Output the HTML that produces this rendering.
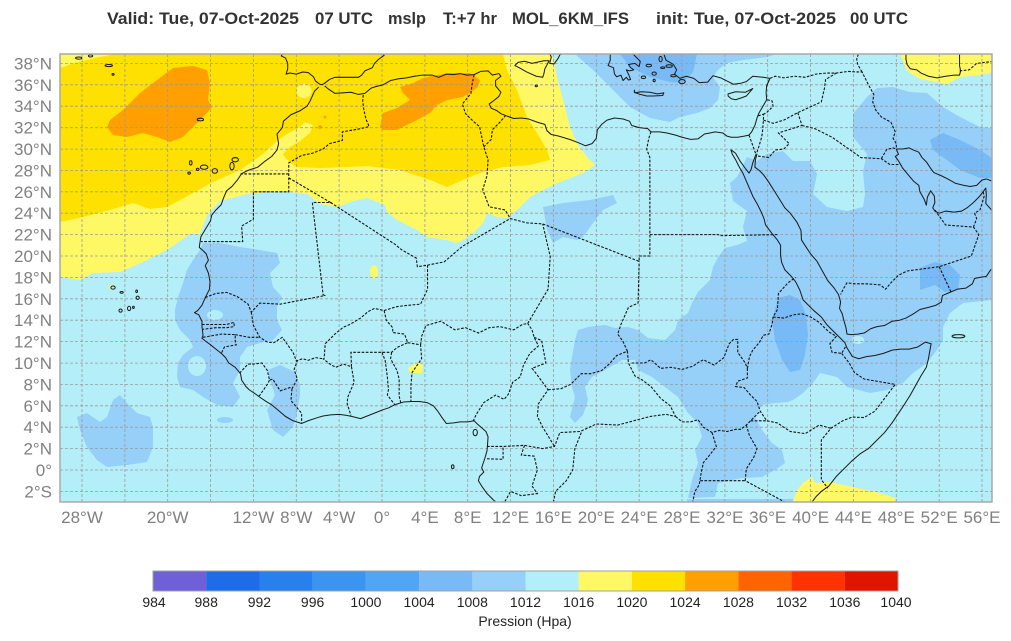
<!DOCTYPE html>
<html><head><meta charset="utf-8"><style>
html,body{margin:0;padding:0;background:#fff;}
svg{display:block;}
text{font-family:"Liberation Sans",Arial,sans-serif;}
</style></head><body>
<svg width="1011" height="641" viewBox="0 0 1011 641" xmlns="http://www.w3.org/2000/svg">
<defs><clipPath id="mc"><rect x="60" y="54" width="932" height="448"/></clipPath></defs>
<rect width="1011" height="641" fill="#fff"/>
<!-- title -->
<g font-weight="bold" font-size="17" fill="#333">
<text x="107" y="24" textLength="192" lengthAdjust="spacingAndGlyphs">Valid: Tue, 07-Oct-2025</text>
<text x="315" y="24" textLength="58" lengthAdjust="spacingAndGlyphs">07 UTC</text>
<text x="388" y="24" textLength="38" lengthAdjust="spacingAndGlyphs">mslp</text>
<text x="443" y="24" textLength="54" lengthAdjust="spacingAndGlyphs">T:+7 hr</text>
<text x="512" y="24" textLength="117" lengthAdjust="spacingAndGlyphs">MOL_6KM_IFS</text>
<text x="656" y="24" textLength="180" lengthAdjust="spacingAndGlyphs">init: Tue, 07-Oct-2025</text>
<text x="850" y="24" textLength="58" lengthAdjust="spacingAndGlyphs">00 UTC</text>
</g>
<g clip-path="url(#mc)">
<rect x="60" y="54" width="932" height="448" fill="#b4eef8"/>
<!-- yellow 1016-1020 -->
<polygon fill="#fff865" points="60,54 552,54 557,77 563,100 570,127 577,143 587,157 595,165 583,173 560,182 543,190 530,197 517,210 507,218 497,217 487,213 483,223 473,233 463,240 457,243 447,240 427,237 417,230 397,220 387,212 385,205 367,198 353,201 337,207 320,204 307,194 280,191 247,194 220,201 207,215 200,234 190,234 167,250 143,262 120,272 93,273 80,280 60,277"/>
<!-- gold 1020-1024 -->
<polygon fill="#ffe100" points="60,54 503,54 507,70 517,90 527,117 537,133 547,150 550,160 530,165 503,167 480,173 463,180 447,187 430,180 400,170 367,166 347,167 320,168 297,167 287,160 283,154 290,147 300,141 310,133 313,125 305,122 300,127 287,134 277,141 263,154 240,170 213,182 182,199 167,207 150,209 133,203 110,210 83,217 60,222"/>
<polygon fill="#fff865" points="60,54 115,54 95,58 75,63 60,68"/>
<ellipse cx="304" cy="91" rx="7.5" ry="7" fill="#fff865"/>
<!-- orange -->
<polygon fill="#ffa000" points="107,127 110,120 123,110 140,93 157,80 173,68 193,66 207,70 210,83 208,100 212,107 207,113 197,123 183,137 170,142 157,137 143,133 127,137 113,135"/>
<polygon fill="#ffa000" points="380,127 383,113 397,108 410,100 403,93 400,87 413,83 423,78 437,75 450,73 470,73 480,80 478,87 470,93 463,97 447,100 437,105 430,113 417,120 407,125 397,130 383,130"/>
<circle cx="325" cy="117" r="1.5" fill="#ffa000"/><circle cx="320" cy="127" r="1.8" fill="#ffa000"/>
<!-- light blue 1008-1012 -->
<g fill="#96cff8">
<polygon points="575,54 593,70 613,90 630,107 650,118 670,122 680,117 697,113 710,108 718,100 720,87 713,77 718,70 727,63 743,60 767,57 777,54"/>
<polygon points="737,177 747,157 757,161 767,154 783,151 793,161 810,161 817,174 813,194 827,207 847,211 863,207 865,194 863,171 867,154 853,137 853,114 867,97 877,88 893,87 910,92 927,93 943,107 960,117 980,127 992,128 992,300 963,303 950,313 943,327 943,340 937,350 927,363 913,373 903,383 887,390 870,393 847,387 837,377 820,373 813,383 803,393 793,400 788,402 775,403 762,405 755,417 762,430 772,443 782,450 785,463 775,470 762,477 742,478 718,483 715,497 688,498 692,480 698,463 695,450 702,437 698,423 688,413 678,397 665,387 652,377 638,370 635,360 622,360 605,370 592,377 585,387 588,400 583,415 575,423 570,417 575,397 572,387 570,370 572,357 575,340 578,330 588,327 605,325 615,328 628,327 638,330 648,338 665,340 675,330 678,320 688,313 692,303 698,292 710,280 713,267 718,257 725,248 737,245 747,241 743,227 747,211 733,201 730,183"/>
<polygon points="543,207 563,203 590,200 613,195 617,203 603,210 593,223 583,237 577,240 563,237 553,243 547,230"/>
<polygon points="203,243 220,243 240,247 260,250 277,253 280,263 270,273 273,287 282,297 277,307 277,320 282,330 273,340 260,343 247,347 240,357 240,370 233,383 240,397 233,407 217,405 203,397 193,390 180,387 177,377 178,363 183,355 193,347 190,340 180,330 175,320 175,310 178,297 183,283 187,270 193,260 200,250"/>
<polygon points="267,410 275,395 270,380 268,370 280,365 295,372 300,385 300,395 297,413 293,427 283,437 273,430"/>
<polygon points="77,417 87,413 100,422 107,417 113,400 120,395 127,403 137,413 150,417 153,427 153,447 147,462 127,465 107,467 97,460 87,447 80,430"/>
<ellipse cx="225" cy="420" rx="8" ry="3"/>
<polygon points="687,499 793,499 793,502 687,502"/>
</g>
<g fill="#b4eef8">
<ellipse cx="197" cy="366" rx="9" ry="10"/>
<ellipse cx="215" cy="315" rx="8" ry="5"/>
<ellipse cx="858" cy="340" rx="6" ry="4"/>
</g>
<!-- 1004-1008 -->
<g fill="#78baf6">
<polygon points="620,54 630,67 650,77 670,82 683,83 693,72 697,54"/>
<polygon points="778,298 790,295 800,300 806,315 808,335 805,355 800,370 790,372 782,360 775,340 772,320"/>
<polygon points="920,268 935,262 950,265 960,275 958,290 945,292 935,285 920,290"/>
<polygon points="930,140 943,133 960,140 980,150 992,158 992,178 980,178 960,170 947,160 933,150"/>
</g>
<!-- other yellow patches -->
<g fill="#fff865">
<polygon points="900,54 907,71 920,79 947,84 960,77 987,74 992,72 992,54"/>
<polygon points="793,502 797,490 803,483 812,477 815,483 830,482 853,487 880,493 895,498 895,502"/>
<ellipse cx="374" cy="272" rx="4" ry="7"/>
<polygon points="408,368 418,362 423,365 422,373 410,373"/>
<circle cx="111" cy="287" r="2"/>
</g>
<!-- gridlines -->
<g stroke="#9a9a9a" stroke-width="0.8" stroke-dasharray="3,2" fill="none">
<path d="M82,54V502M124.9,54V502M167.7,54V502M210.6,54V502M253.4,54V502M296.3,54V502M339.1,54V502M382,54V502M424.9,54V502M467.7,54V502M510.6,54V502M553.4,54V502M596.3,54V502M639.2,54V502M682,54V502M724.9,54V502M767.7,54V502M810.6,54V502M853.5,54V502M896.3,54V502M939.2,54V502M982,54V502"/>
<path d="M60,491.4H992M60,470H992M60,448.6H992M60,427.2H992M60,405.8H992M60,384.5H992M60,363.1H992M60,341.6H992M60,320.2H992M60,298.8H992M60,277.4H992M60,256H992M60,234.6H992M60,213.2H992M60,191.8H992M60,170.5H992M60,149.1H992M60,127.7H992M60,106.2H992M60,84.8H992M60,63.4H992"/>
</g>
<!-- coastlines & borders (lon/lat) -->
<g transform="matrix(10.715,0,0,-10.70,382,470)" fill="none" stroke="#1a1a1a" stroke-width="0.095" stroke-linejoin="round">
<path d="M-5.9,35.8L-6.3,35.4-6.7,34.5-7,34-7.6,33.6-8.5,33.2-9.2,32.6-9.3,32-9.8,31.4-9.65,30.5-9.8,29.9-10.3,29.3-11,28.8-11.6,28.3-12.5,28-13.1,27.7-13.5,27.1-14,26.5-14.5,26.1-14.8,25.4-15,24.8-15.5,24.3-15.9,23.8-16,23.3-16.3,22.8-16.6,22.3-16.9,21.8-17,21.2-17.05,20.8-16.7,20.5-16.4,20.2-16.2,19.6-16.5,19.1-16.2,18.4-16.05,17.6-16.1,16.9-16.5,16.1-16.8,15.4-17.2,14.9-17.5,14.7-17.1,14.5-16.8,13.9-16.8,13.4-16.7,12.6-16.8,12.3-16.4,12-16,11.7-15.5,11.3-15,10.9-14.6,10.5-14.3,10-13.7,9.6-13.2,9-13.1,8.4-12.7,7.8-12.4,7.5-11.8,7.1-11.4,6.8-10.8,6.4-10.3,6.1-9.7,5.6-9,5-8.3,4.6-7.5,4.35-6.9,4.6-6,4.9-5.5,5.05-4.8,5.15-4,5.2-3.3,5.1-2.8,5-2,4.8-1.5,5-1,5.2-0.5,5.4 0,5.6 0.6,5.8 1.2,6.1 2,6.35 2.8,6.4 3.5,6.4 4.2,6.3 4.8,6 5.2,5.5 5.6,4.9 6,4.35 6.7,4.4 7.3,4.5 8,4.5 8.6,4.6 8.9,4.3 9.3,3.95 9.7,3.6 9.9,3.1 9.85,2.4 9.8,1.8 9.6,1.1 9.4,0.5 9.3,0.2 9.5,-0.2 9.1,-0.6 9,-1 9.3,-1.5 9.8,-2.2 10.4,-2.8 11,-3.3"/>
<path d="M-5.35,35.9L-5,35.6-4.4,35.2-3.7,35.25-2.9,35.3-2.2,35.1-1.6,35.2-1,35.7-0.5,35.85 0.1,36 0.8,36.4 1.5,36.55 2.3,36.65 3,36.8 3.8,36.9 4.7,36.9 5.3,36.7 6,37 6.7,36.95 7.3,37.05 7.9,36.9 8.6,36.95 9.2,37.25 9.9,37.3 10.3,36.9 10.9,37.05 11.1,36.8 10.6,36.4 10.6,35.9 11.1,35.3 10.9,34.9 10.4,34.5 10,34.2 10.2,33.8 10.7,33.6 11.1,33.3 11.6,33.1 12.3,32.85 13,32.9 13.7,32.8 14.5,32.5 15.2,32.3 15.4,31.7 15.8,31.35 16.5,31.2 17.5,30.9 18.3,30.6 19,30.3 19.6,30.5 20,31 20.1,31.8 20.5,32.3 21,32.7 21.7,32.9 22.5,32.8 23.1,32.6 23.3,32.2 24,32 24.8,31.9 25.1,31.6 25.9,31.6 26.6,31.5 27.4,31.3 28,31.1 28.8,30.9 29.5,30.95 30.1,31.4 30.6,31.5 31.1,31.6 31.8,31.5 32.2,31.2 32.6,31.1 33.2,31.1 33.8,31.2 34.25,31.3 34.5,31.6 34.8,32.2 35,32.9 35.2,33.4 35.5,33.9 35.9,34.6 35.85,35.3 35.9,35.9 36.2,36.6 35.6,36.7 34.6,36.8 34,36.3 33.5,36.15 32.8,36.05 32.3,36.3 31.6,36.65 30.9,36.85 30.6,36.5 30.4,36.25 29.6,36.2 29.1,36.6 28.4,36.8 27.8,36.6 27.3,37 27.5,37.4 27.2,37.9 26.5,38.3 26.3,38.9"/>
<path d="M32.55,29.95L32.7,29.5 33,29 33.3,28.4 33.7,27.7 34,27 34.3,26.3 34.6,25.6 35,24.9 35.4,24.1 35.65,23.5 35.8,22.9 36.4,22.1 36.9,21.5 37.2,21 37.2,20 37.3,19.4 37.6,18.7 38.2,18.1 38.6,17.6 39,16.8 39.3,15.9 39.8,15.4 40.3,14.9 41,14.3 41.5,13.6 42,13.1 42.6,12.5 43.2,11.9 43.4,11.4 43.9,10.6 44.5,10.4 45.2,10.6 46,10.7 46.8,10.9 47.6,11.2 48.4,11.3 49.2,11.3 50,11.5 50.7,11.95 51.25,11.8 51.1,11 51,10.4 50.8,9.6 50.3,8.8 49.8,7.9 49.3,7 48.8,6.2 48.2,5.3 47.6,4.4 46.9,3.5 46.1,2.7 45.4,2 44.6,1.5 43.8,0.8 43,0 42.4,-0.6 41.7,-1.5 41,-2 40.5,-2.5 40.2,-2.9 39.9,-3.4"/>
<path d="M32.6,29.9L33,29.6 33.4,28.9 33.9,28.2 34.25,27.75 34.45,28.1 34.6,28.7 34.9,29.5"/>
<path d="M35,29.55L34.85,29 34.8,28.3 35.2,28 35.6,27.6 36.1,26.9 36.6,26.1 37.1,25.3 37.6,24.5 38.1,24 38.7,23.2 39.1,22.4 39.15,21.5 39.6,20.8 40,20.2 40.6,19.5 41.1,18.6 41.6,17.7 42.2,17 42.6,16.4 42.8,15.7 42.7,15.1 42.95,14.6 43.1,14 43.3,13.3 43.4,12.7 43.8,12.65 44.4,12.7 45,12.8 45.6,13.2 46.2,13.4 46.9,13.5 47.6,13.9 48.3,14 48.9,14.2 49.6,14.6 50.2,15 51,15.2 51.7,15.4 52.2,15.7 52.3,16.3 53,16.6 53.7,16.9 54.5,17 55.1,17.4 55.3,17.9 55.8,18 56.4,18.1 56.8,18.7 57.2,19"/>
<path d="M48,30L48.2,29.5 47.9,29.3 48.2,28.9 48.6,28.2 49.1,27.6 49.6,27 50.1,26.6 50.2,26 50.6,25.3 50.8,24.75 50.9,25.5 51.2,26.1 51.55,25.6 51.6,25 51.4,24.5 51.6,24.2 52,24 52.6,24.2 53.4,24.1 54.1,24.2 54.6,24.5 55.2,25 55.7,25.5 56.1,26 56.35,26.35 56.4,25.7 56.35,24.9 56.8,24.4 57.2,23.9"/>
<path d="M48,30L48.6,30 49.2,30.1 49.6,29.9 50.1,29.7 50.4,29.2 50.8,28.8 51.2,28.2 51.5,27.8 52.2,27.5 52.8,27.2 53.5,26.8 54.3,26.6 54.9,26.5 55.5,26.6 56,27.1 56.4,27.2 57.2,26.9"/>
<path d="M48.9,39L48.9,38.4 49,37.9 49.3,37.5 49.9,37.4 50.3,37.1 51,36.8 51.8,36.65 52.6,36.8 53.4,36.9 53.9,36.9 54,37.3 53.9,37.8 53.9,39"/>
<path d="M-9.2,39L-9.4,38.7-9,38.5-8.8,38-8.8,37.5-8.95,37-8.6,37.1-8,37-7.4,37.2-6.9,37.15-6.4,36.75-6.2,36.35-5.8,36.05-5.6,36-5.35,36.15-4.9,36.5-4.4,36.7-3.6,36.7-2.9,36.7-2.2,36.7-1.9,36.9-1.6,37.3-0.9,37.6-0.7,38-0.3,38.4 0.2,38.75 0,39"/>
<path d="M15.6,38.25L15.2,37.5 15.1,37 15,36.7 14.4,36.8 13.5,37.2 12.8,37.6 12.4,37.8 12.7,38.1 13.3,38.2 14,38 15.1,38.25Z"/>
<path d="M15.6,39L15.8,38.6 15.65,38 16.05,37.95 16.4,38.4 16.6,38.8 17.1,39"/>
<path d="M21.3,39L21.3,38.3 21.1,37.8 21.6,37.6 21.7,37 21.9,36.75 22.3,36.9 22.5,36.4 22.8,36.7 23,36.45 23.2,36.5 23,37 22.8,37.4 23.1,37.3 23.5,37.4 23.2,37.6 23,37.9 23.6,38 24,37.7 24.1,38.2 23.7,38.6 23.3,39"/>
<path d="M23.55,35.5L23.6,35.25 24.2,35.35 25,35.3 25.7,35.15 26.3,35.25 26.2,35 25.3,34.95 24.7,34.95 24.1,35.1 23.55,35.3Z"/>
<path d="M32.3,34.95L32.6,34.7 33,34.6 33.6,34.8 34,34.95 34.6,35.65 33.9,35.3 33,35.35 32.3,35.15Z"/>
<g>
<ellipse cx="28" cy="36.3" rx="0.3" ry="0.2"/><ellipse cx="25.4" cy="37.05" rx="0.2" ry="0.15"/><ellipse cx="24.4" cy="36.7" rx="0.2" ry="0.12"/><ellipse cx="24.9" cy="37.8" rx="0.25" ry="0.12"/><ellipse cx="26.8" cy="37.75" rx="0.3" ry="0.12"/><ellipse cx="26" cy="38.4" rx="0.15" ry="0.25"/><ellipse cx="27.2" cy="36.85" rx="0.25" ry="0.1"/><ellipse cx="26.2" cy="37.6" rx="0.2" ry="0.08"/><ellipse cx="25.4" cy="36.4" rx="0.1" ry="0.12"/>
<ellipse cx="-13.7" cy="29" rx="0.3" ry="0.2"/><ellipse cx="-14" cy="28.4" rx="0.2" ry="0.35"/><ellipse cx="-15.6" cy="27.95" rx="0.25" ry="0.22"/><ellipse cx="-16.6" cy="28.3" rx="0.35" ry="0.2"/><ellipse cx="-17.2" cy="28.1" rx="0.12" ry="0.1"/><ellipse cx="-17.85" cy="28.7" rx="0.12" ry="0.2"/><ellipse cx="-18" cy="27.75" rx="0.12" ry="0.1"/>
<ellipse cx="-16.95" cy="32.75" rx="0.3" ry="0.12"/>
<ellipse cx="-25.1" cy="17.05" rx="0.2" ry="0.15"/><ellipse cx="-24.3" cy="16.6" rx="0.15" ry="0.08"/><ellipse cx="-22.9" cy="16.7" rx="0.08" ry="0.12"/><ellipse cx="-22.8" cy="16.1" rx="0.15" ry="0.15"/><ellipse cx="-23.6" cy="15.1" rx="0.15" ry="0.2"/><ellipse cx="-24.4" cy="14.9" rx="0.15" ry="0.15"/><ellipse cx="-23.2" cy="15.2" rx="0.08" ry="0.1"/>
<ellipse cx="-28.3" cy="38.5" rx="0.3" ry="0.1"/><ellipse cx="-27.2" cy="38.7" rx="0.2" ry="0.1"/><ellipse cx="-25.5" cy="37.8" rx="0.35" ry="0.1"/><ellipse cx="-25.1" cy="36.97" rx="0.1" ry="0.08"/>
<ellipse cx="8.7" cy="3.5" rx="0.2" ry="0.3"/><ellipse cx="6.6" cy="0.3" rx="0.12" ry="0.18"/><ellipse cx="53.8" cy="12.5" rx="0.6" ry="0.15"/><ellipse cx="14.4" cy="35.9" rx="0.1" ry="0.08"/>
</g>
</g>
<g transform="matrix(10.715,0,0,-10.70,382,470)" fill="none" stroke="#111" stroke-width="0.1" stroke-dasharray="0.25,0.14">
<path d="M-1.75,35.05L-1.8,34.5-1.7,33.7-1.5,32.8-1.2,32.1-2,31.9-3.7,31.6-3.7,30.8-4.9,30.5-5.5,30-6.5,29.6-7.5,29.4-8.7,28.7-8.7,27.3-8.7,26-12,26-12,23.45-13.1,22.8-13,21.35-16.9,21.35"/>
<path d="M-8.7,27.67L-13.2,27.67"/>
<path d="M-8.7,27.3L-4.8,25-6.5,25-5.5,16.4-5.35,16.3-9.5,15.5-11.4,15.6-12.2,14.75-12.5,15.5-13.5,16.2-14.5,16.6-15.5,16.5-16.3,16.2-16.5,16.1"/>
<path d="M-4.8,25L1.2,21.1 1.8,20.6 3.2,19.8 3.3,19 4.25,19.15 5.8,19.45 7.5,20.9 11.97,23.5 13.5,23.1 15,23 24,19.5 24,20 25,20 25,22 25,29.2 24.7,30 24.9,31 25.1,31.6"/>
<path d="M4.25,19.15L4.25,16.9 3.6,15.5 2,15.35 1.3,15.25 0.2,14.9-0.7,15.1-1.3,14.8-2,14.2-3,13.6-3.6,13.35-4.4,12.7-5.3,11.8-5.4,10.4"/>
<path d="M-12.2,14.75L-12,13.5-11.4,12.4-10.7,11.95-10.1,11.9-9.3,12.4-8.6,11.4-8.3,11-8,10.2-7.4,10.4-6.9,10.25-6.2,10.5-5.5,10.4"/>
<path d="M0.2,14.9L0.4,14 1,13.3 1,12.85 2.1,12.7 2.4,11.9 1.4,11.45 0.9,11 0,11-1,11-2.9,11-2.85,9.65-3.6,9.9-4.3,9.6-4.8,9.85-5.5,10.4"/>
<path d="M-2.85,9.65L-2.6,8.2-3.2,6.8-3.25,6.2-2.9,5.1"/>
<path d="M0,11L0.3,10.2 0.5,8.7 0.6,7.5 0.5,7 1.2,6.1"/>
<path d="M0.9,11L0.8,10.4 1.4,9.3 1.6,8.5 1.6,6.9 1.75,6.3"/>
<path d="M2.4,11.9L3.6,11.7 3.7,10.4 2.8,9.1 2.7,7.9 2.7,6.35"/>
<path d="M3.6,11.7L3.7,12.5 4.1,13.5 5.5,13.9 6.8,13.1 7.8,13.3 9,12.8 10,13.3 11,13.4 12.3,13.1 13.1,13.6 13.6,13.7 15.5,16.9 15.7,19.95 15,23"/>
<path d="M8.5,4.55L8.8,5.2 9.5,6.3 10.6,7 11.4,6.6 11.8,7.1 12.2,8.2 12.9,8.7 13.2,9.8 13.8,10.9 14.6,11.6 14.2,12.4 14,13.1 13.6,13.7"/>
<path d="M14.2,12.4L14.9,12.1 15.1,11 15.3,10 14,9.5 14.4,9 15.5,7.5 14.6,6.2 14.5,5 15,4 16.1,2.2"/>
<path d="M9.8,2.2L11.3,2.2 13.3,2.3 15,2 16.1,2.2 16.6,3.5 18.5,3.6 20,4.3 22,4.2 23.5,4.6 25,5 26.5,5.2 27.4,5"/>
<path d="M9.8,1.05L11.3,1 11.3,2.2"/>
<path d="M13.3,2.3L13,1.4 14.2,1.3 14.5,0 14,-1.5 14.5,-2.2 13,-2.4 12,-2 11.5,-2.9 11.1,-3"/>
<path d="M18.6,3.5L18,2 17.8,0 17.2,-1 16.2,-2 16,-3"/>
<path d="M15.5,7.5L16.7,7.6 17.6,8 18.6,9 19.5,9 20.5,9.3 21.2,9.9 21.9,10.7 22.9,11.1 23,10 23.6,8.8 24.3,8.4 25.1,7.8 26,6.7 26.9,6 27.4,5"/>
<path d="M22.9,11.1L22.5,12 22,12.7 22.3,13.6 23,15.2 23.9,15.6 24,19.5"/>
<path d="M25,22L31.4,22 31.5,21.9 36.9,22"/>
<path d="M8.6,36.95L8.4,36 8.3,35.2 7.5,34.2 7.8,33.3 8.5,32.6 9.1,32.1 9.5,30.2 9.9,29 9.8,27.5 9.4,26.2 10,24.6 11.5,24.3 11.97,23.5"/>
<path d="M11.55,33.15L11,32.5 10.3,31.8 10.2,30.9 9.5,30.2"/>
<path d="M23.3,10L24.5,10 25.1,10.3 26,9.5 27,9.6 28,9.4 29,9.7 29.6,10.1 30,10.3 31,9.8 31.9,10.5 32.4,11.8 32.8,12.2 33.2,12.2 33.2,11 33.9,10 34.1,9.5"/>
<path d="M34.1,9.5L34.3,10.6 34.6,11.2 35.2,11.9 35.6,12.6 36.1,12.7 36.4,13.6 36.5,14.3 36.9,15 37,16.5 37.9,17.5 38.6,18"/>
<path d="M36.5,14.3L37.5,14.2 38.4,14.5 39.2,14.6 40,14.3 40.8,13.8 41.7,12.9 42.4,12.5 41.8,11.8 42,11 42.9,10.9 43.25,11.5"/>
<path d="M42.9,10.9L43.6,10 44.1,9.1 45,8.5 47.9,8 46,5.5 45,4.9 43.9,4.95 43,4.6 41.9,3.9 41,2.8 41,-0.9 41.6,-1.7"/>
<path d="M34.1,9.5L34.1,8.6 33.2,8.3 33,7.8 33.8,7.7 34.4,7 35,6.4 35.3,5.5 35.9,4.6 36.9,4.4 38.1,3.6 39.5,3.4 40.8,4.2 41.9,3.9"/>
<path d="M27.4,5L28,4.5 28.8,4.5 29.5,4.7 30,4 30.8,3.5 31.5,3.7 32.2,3.6 33,3.8 33.5,3.8 34,4.2 34.4,4.6 35.3,5.5"/>
<path d="M34.4,4.6L35.9,4.6"/>
<path d="M30.8,3.5L31.2,2.2 30.5,1.3 30,0.7 29.8,-0.2 29.6,-1.4 29.2,-2 29,-3"/>
<path d="M34,4.2L34.3,3.2 35,2 34.7,1.2 34,0.1 33.9,-1 37.6,-3 37.8,-3.3"/>
<path d="M29.7,-1L33.9,-1"/>
<path d="M34.25,31.3L34.9,29.5"/>
<path d="M35.1,33.1L35.6,33.25 35.6,32.7 35.5,31.5 35.4,31 35.1,30 34.95,29.55"/>
<path d="M35.95,34.6L36.4,34.5 36.5,34 35.9,33.4 35.6,33.25"/>
<path d="M35.6,32.7L36.5,32.4 37.5,32.7 38.8,33.4 41,34.4 41.3,35.7 41.4,36.5 42.4,37.1"/>
<path d="M38.8,33.4L39.2,32.2 37,31.5 38,30.5 37.5,30 36.7,29.9 36.1,29.2 35,29.35"/>
<path d="M35.9,35.9L36.2,36.6 36.7,36.8 37.5,36.65 38.5,36.8 39.5,36.7 40.5,37 41.5,37.1 42.4,37.1 43.5,37.25 44.3,37.2 44.8,37.2 45.4,36 45.9,35.1 45.8,34.4 46.1,33.6 46.6,33 47.5,32.5 47.9,31.6 47.7,31 48,30.5 48,30"/>
<path d="M44.8,37.2L44.4,37.9 44.3,38.4 44.5,39"/>
<path d="M39.2,32.2L40.4,31.9 42,31.1 44.7,29.2 46.4,29.1 46.6,29.1 47.4,28.55 48.4,28.55"/>
<path d="M46.6,29.1L47.1,29.95 47.7,30.1 48,30"/>
<path d="M51.6,24.3L51.8,24 52.6,22.9 55.2,22.7 55.7,22 55,20 52,19 49,18.6 48.2,18.2 47.5,17.5 47,16.9 46.5,17.3 45.2,17.4 44.1,17.4 43.4,17.5 43.1,17 42.8,16.4"/>
<path d="M52,19L53.1,16.65"/>
<path d="M56.1,26L56.2,25.6 56,24.9 55.8,24.3 55.3,24 55.5,23.5 55.2,22.7"/>
<path d="M53.9,37.3L54.8,37.4 55.5,38 56.3,38.1 57.2,38.2"/>
<path d="M-16.8,13.6L-15.5,13.6-14.5,13.6-13.8,13.8-13.8,13.4-14.5,13.3-15.5,13.3-16.7,13.15"/>
<path d="M-16.7,12.4L-15,12.7-13.7,12.65-13.7,12-13.6,11.7-14.7,11.5-15,10.9"/>
<path d="M-13.7,12.65L-12.4,12.4-11.4,12.4"/>
<path d="M-13.3,9.05L-12.5,9.9-12,9.9-11.2,10-10.7,9.3-10.5,8.4-10.2,8.5-9.5,7.4-8.6,7.7-8.4,7.6-7.9,8.5-8.2,9.4-7.9,10.2"/>
<path d="M-10.5,8.4L-10.7,8-11.4,7-11.5,6.9"/>
<path d="M-8.4,7.6L-8.5,6.5-7.5,5.3-7.5,4.4"/>
</g>
</g>
<rect x="60" y="54" width="932" height="448" fill="none" stroke="#a8a8a8" stroke-width="1.5"/>
<!-- y labels -->
<g font-size="17" fill="#808080" text-anchor="end">
<text x="52" y="69.4">38°N</text><text x="52" y="90.8">36°N</text><text x="52" y="112.2">34°N</text><text x="52" y="133.7">32°N</text><text x="52" y="155.1">30°N</text><text x="52" y="176.5">28°N</text><text x="52" y="197.8">26°N</text><text x="52" y="219.2">24°N</text><text x="52" y="240.6">22°N</text><text x="52" y="262">20°N</text><text x="52" y="283.4">18°N</text><text x="52" y="304.8">16°N</text><text x="52" y="326.2">14°N</text><text x="52" y="347.6">12°N</text><text x="52" y="369.1">10°N</text><text x="52" y="390.5">8°N</text><text x="52" y="411.8">6°N</text><text x="52" y="433.2">4°N</text><text x="52" y="454.6">2°N</text><text x="52" y="476">0°</text><text x="52" y="497.4">2°S</text>
</g>
<!-- x labels -->
<g font-size="17" fill="#808080" text-anchor="middle">
<text x="82" y="523">28°W</text><text x="167.7" y="523">20°W</text><text x="253.4" y="523">12°W</text><text x="296.3" y="523">8°W</text><text x="339.1" y="523">4°W</text><text x="382" y="523">0°</text><text x="424.9" y="523">4°E</text><text x="467.7" y="523">8°E</text><text x="510.6" y="523">12°E</text><text x="553.4" y="523">16°E</text><text x="596.3" y="523">20°E</text><text x="639.2" y="523">24°E</text><text x="682" y="523">28°E</text><text x="724.9" y="523">32°E</text><text x="767.7" y="523">36°E</text><text x="810.6" y="523">40°E</text><text x="853.5" y="523">44°E</text><text x="896.3" y="523">48°E</text><text x="939.2" y="523">52°E</text><text x="982" y="523">56°E</text>
</g>
<!-- colorbar -->
<g>
<rect x="153" y="571" width="53.3" height="20" fill="#7060d8"/>
<rect x="206.2" y="571" width="53.3" height="20" fill="#1e6ce8"/>
<rect x="259.4" y="571" width="53.3" height="20" fill="#2880ec"/>
<rect x="312.6" y="571" width="53.3" height="20" fill="#3a94f0"/>
<rect x="365.9" y="571" width="53.3" height="20" fill="#50a5f4"/>
<rect x="419.1" y="571" width="53.3" height="20" fill="#78baf6"/>
<rect x="472.3" y="571" width="53.3" height="20" fill="#96cff8"/>
<rect x="525.5" y="571" width="53.3" height="20" fill="#b4eef8"/>
<rect x="578.7" y="571" width="53.3" height="20" fill="#fff865"/>
<rect x="631.9" y="571" width="53.3" height="20" fill="#ffe100"/>
<rect x="685.1" y="571" width="53.3" height="20" fill="#ffa000"/>
<rect x="738.4" y="571" width="53.3" height="20" fill="#ff6400"/>
<rect x="791.6" y="571" width="53.3" height="20" fill="#ff3200"/>
<rect x="844.8" y="571" width="53.2" height="20" fill="#e11400"/>
<rect x="153" y="571" width="745" height="20" fill="none" stroke="#a0a0a0" stroke-width="1"/>
</g>
<g font-size="14" fill="#222" text-anchor="middle">
<text x="154" y="607">984</text><text x="206.2" y="607">988</text><text x="259.4" y="607">992</text><text x="312.6" y="607">996</text><text x="365.9" y="607">1000</text><text x="419.1" y="607">1004</text><text x="472.3" y="607">1008</text><text x="525.5" y="607">1012</text><text x="578.7" y="607">1016</text><text x="631.9" y="607">1020</text><text x="685.1" y="607">1024</text><text x="738.4" y="607">1028</text><text x="791.6" y="607">1032</text><text x="844.8" y="607">1036</text><text x="896" y="607">1040</text>
<text x="525" y="626">Pression (Hpa)</text>
</g>
</svg>
</body></html>
